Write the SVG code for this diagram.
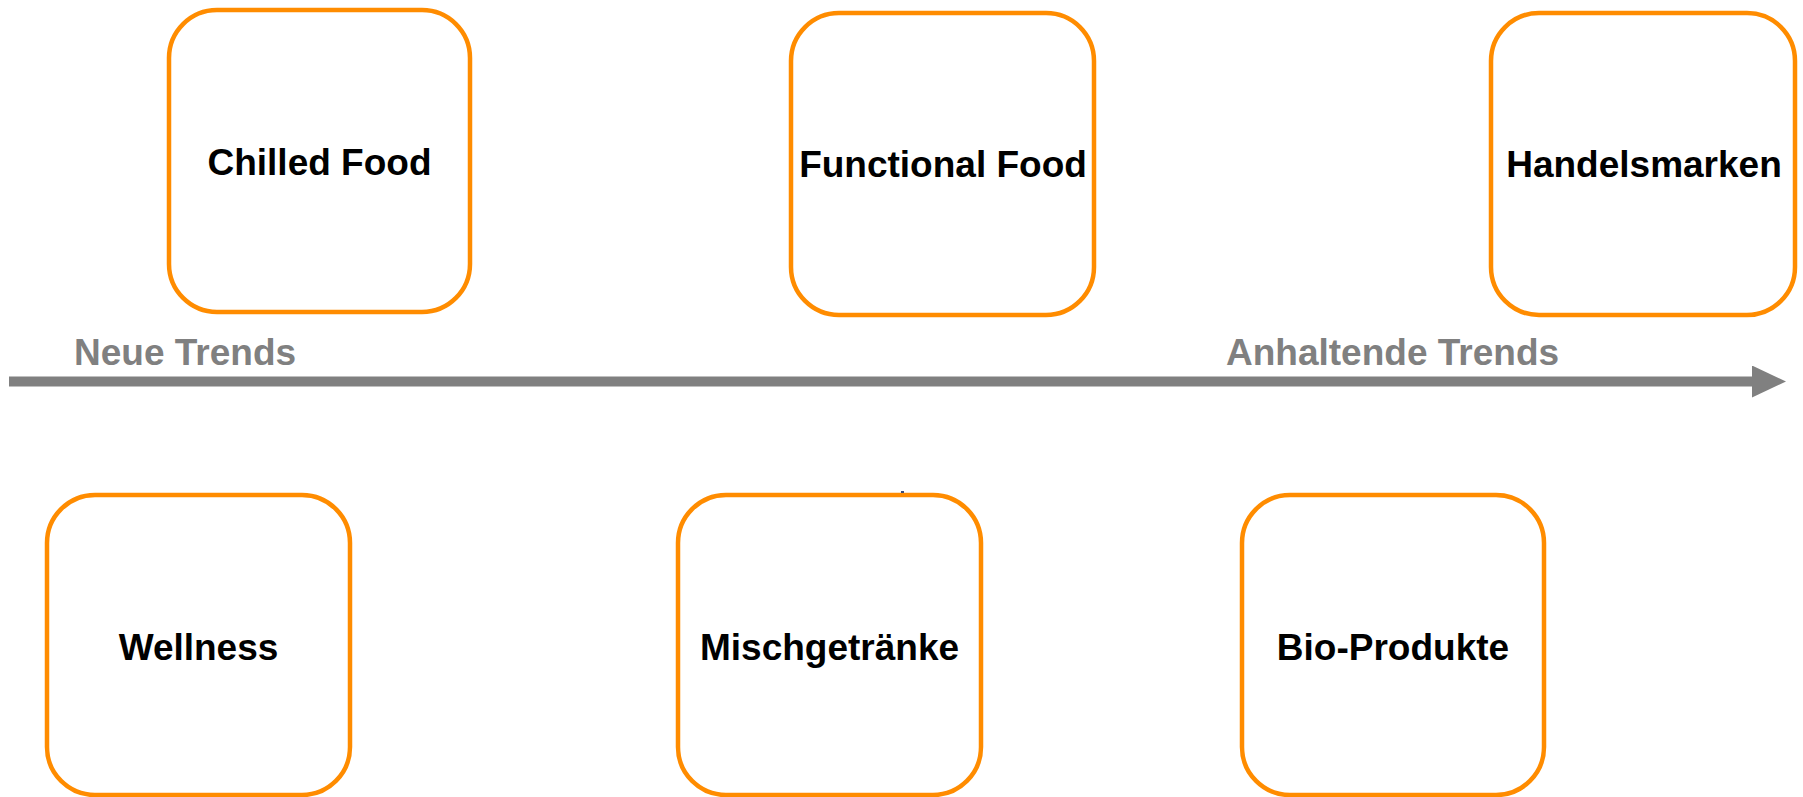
<svg xmlns="http://www.w3.org/2000/svg" width="1803" height="797" viewBox="0 0 1803 797">
  <style>
    .box { fill: #FFFFFF; stroke: #FF8C00; stroke-width: 4.5; }
    .label { font-family: "Liberation Sans", Arial, sans-serif; font-weight: bold; font-size: 37px; fill: #000000; text-anchor: middle; }
    .axis-label { font-family: "Liberation Sans", Arial, sans-serif; font-weight: bold; font-size: 37px; fill: #808080; }
    .axis { stroke: #808080; stroke-width: 10; fill: none; }
  </style>
  <defs>
    <marker id="arrowhead" markerUnits="userSpaceOnUse" markerWidth="34" markerHeight="32" refX="0" refY="16" orient="auto">
      <polygon points="0,0 34,16 0,32" fill="#808080"/>
    </marker>
  </defs>
  <rect width="1803" height="797" fill="#FFFFFF"/>

  <!-- timeline axis -->
  <g id="connectors">
    <line class="axis" x1="9" y1="381.5" x2="1752" y2="381.5" marker-end="url(#arrowhead)"/>
  </g>

  <text class="axis-label" x="74" y="365">Neue Trends</text>
  <text class="axis-label" x="1226" y="365">Anhaltende Trends</text>

  <!-- upper row -->
  <g id="chilled-food">
    <rect class="box" x="169" y="10" width="301" height="302" rx="48" ry="48"/>
    <text class="label" x="319.5" y="175">Chilled Food</text>
  </g>
  <g id="functional-food">
    <rect class="box" x="791" y="13" width="303" height="302" rx="48" ry="48"/>
    <text class="label" x="943" y="177">Functional Food</text>
  </g>
  <g id="handelsmarken">
    <rect class="box" x="1491" y="13" width="304" height="302" rx="48" ry="48"/>
    <text class="label" x="1644" y="177">Handelsmarken</text>
  </g>

  <!-- lower row -->
  <g id="wellness">
    <rect class="box" x="47" y="495" width="303" height="300" rx="48" ry="48"/>
    <text class="label" x="198.5" y="660">Wellness</text>
  </g>
  <g id="mischgetraenke">
    <rect class="box" x="678" y="495" width="303" height="300" rx="48" ry="48"/>
    <rect x="901" y="491" width="3" height="2" fill="#3A4A7A"/>
    <text class="label" x="829.5" y="660">Mischgetränke</text>
  </g>
  <g id="bio-produkte">
    <rect class="box" x="1242" y="495" width="302" height="300" rx="48" ry="48"/>
    <text class="label" x="1393" y="660">Bio-Produkte</text>
  </g>
</svg>
